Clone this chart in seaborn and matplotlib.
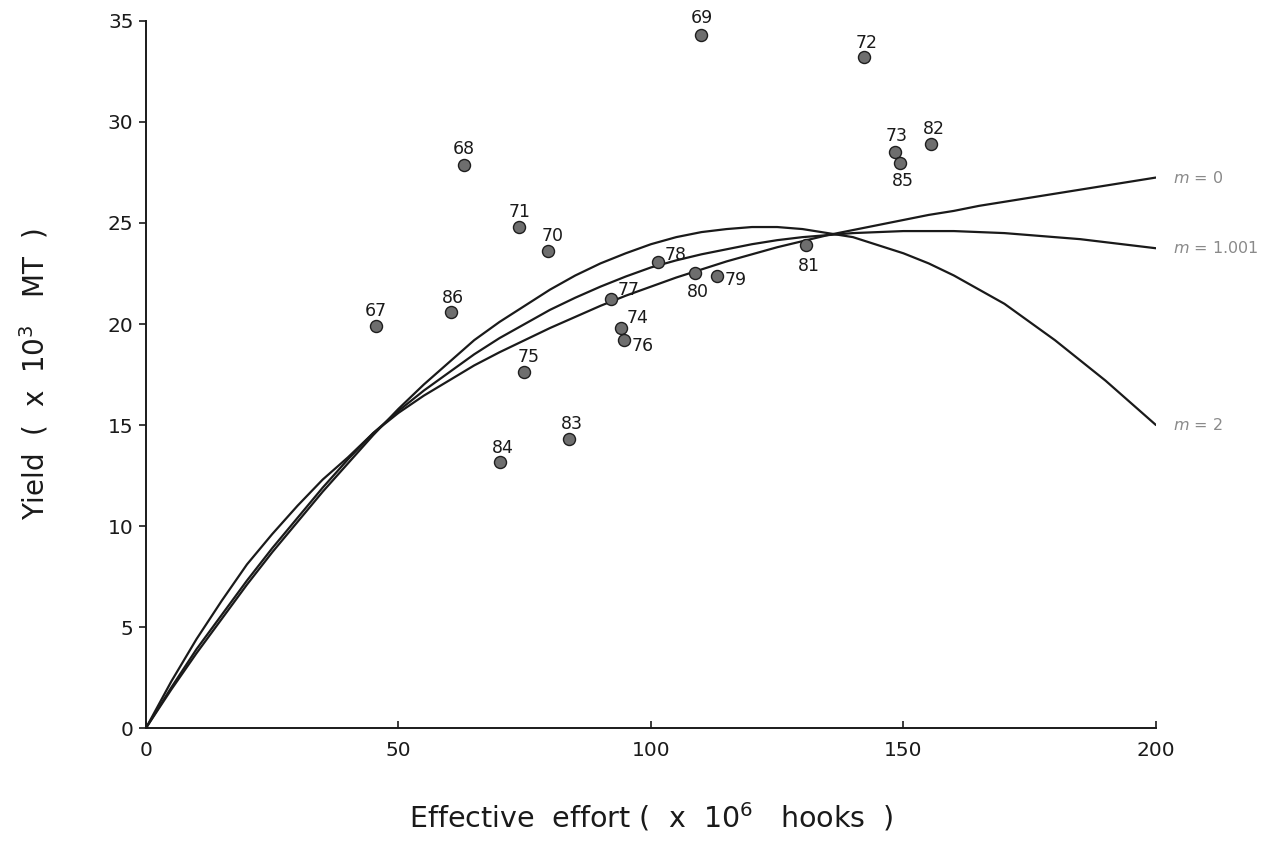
import pandas as pd
import seaborn as sns
import matplotlib.pyplot as plt

# Observed yield vs effective effort, by year
years = ['67', '68', '69', '70', '71', '72', '73', '74', '75', '76',
         '77', '78', '79', '80', '81', '82', '83', '84', '85', '86']
effort = [45.5, 63.0, 110.0, 79.7, 73.9, 142.1, 148.3, 94.0, 74.9, 94.6,
          92.0, 101.3, 113.0, 108.8, 130.8, 155.4, 83.8, 70.2, 149.4, 60.5]
yields = [19.9, 27.85, 34.3, 23.6, 24.8, 33.2, 28.5, 19.8, 17.6, 19.2,
          21.25, 23.05, 22.4, 22.5, 23.9, 28.9, 14.3, 13.15, 27.95, 20.6]

# Equilibrium yield curves
curve_effort = [0, 5, 10, 15, 20, 25, 30, 35, 40, 45, 50, 55, 60, 65, 70, 75, 80,
                85, 90, 95, 100, 105, 110, 115, 120, 125, 130, 135, 140, 145,
                150, 155, 160, 165, 170, 175, 180, 185, 190, 195, 200]
yield_m0 = [0, 2.3, 4.4, 6.3, 8.1, 9.6, 11.0, 12.3, 13.4, 14.6, 15.6, 16.45,
            17.2, 17.95, 18.6, 19.2, 19.8, 20.35, 20.9, 21.4, 21.85, 22.3, 22.7,
            23.1, 23.45, 23.8, 24.1, 24.4, 24.65, 24.9, 25.15, 25.4, 25.6,
            25.85, 26.05, 26.25, 26.45, 26.65, 26.85, 27.05, 27.25]
yield_m1 = [0, 2.0, 3.9, 5.6, 7.3, 8.9, 10.4, 11.9, 13.3, 14.6, 15.7, 16.7,
            17.6, 18.5, 19.3, 20.0, 20.7, 21.3, 21.85, 22.35, 22.8, 23.15, 23.45,
            23.7, 23.95, 24.15, 24.3, 24.4, 24.5, 24.55, 24.6, 24.6, 24.6,
            24.55, 24.5, 24.4, 24.3, 24.2, 24.05, 23.9, 23.75]
yield_m2 = [0, 1.9, 3.7, 5.4, 7.1, 8.7, 10.2, 11.7, 13.1, 14.5, 15.8, 17.0,
            18.1, 19.2, 20.1, 20.9, 21.7, 22.4, 23.0, 23.5, 23.95, 24.3, 24.55,
            24.7, 24.8, 24.8, 24.7, 24.5, 24.3, 23.9, 23.5, 23.0, 22.4,
            21.7, 21.0, 20.1, 19.2, 18.2, 17.2, 16.1, 15.0]
curve_names = ['m = 0', 'm = 1.001', 'm = 2']

# label offsets in points (dx, dy) for each year label
label_offsets = {
    '67': (0, 11), '68': (0, 12), '69': (0, 12), '70': (3, 11), '71': (0, 11),
    '72': (2, 10), '73': (1, 12), '74': (12, 7), '75': (3, 11), '76': (14, -4),
    '77': (13, 6), '78': (13, 5), '79': (14, -3), '80': (2, -13), '81': (2, -15),
    '82': (2, 11), '83': (2, 11), '84': (2, 10), '85': (2, -13), '86': (1, 10),
}

sns.set_style('white')
plt.rcParams['font.family'] = ['DejaVu Sans']
plt.rcParams['mathtext.fontset'] = 'dejavusans'

fig = plt.figure(figsize=(12.76, 8.43), dpi=100)
ax = fig.add_axes([0.1144, 0.1364, 0.7915, 0.8387])

n = len(curve_effort)
curves = pd.DataFrame({
    'effort': curve_effort * 3,
    'yield': yield_m0 + yield_m1 + yield_m2,
    'model': [curve_names[0]] * n + [curve_names[1]] * n + [curve_names[2]] * n,
})
sns.lineplot(data=curves, x='effort', y='yield', units='model', estimator=None,
             color='#1a1a1a', linewidth=1.6, ax=ax, legend=False)

points = pd.DataFrame({'year': years, 'effort': effort, 'yield': yields})
sns.scatterplot(data=points, x='effort', y='yield', s=75, color='#6e6e6e',
                edgecolor='#1e1e1e', linewidth=1.0, ax=ax, zorder=3, legend=False)

for yr, ex, yv in zip(years, effort, yields):
    dx, dy = label_offsets[yr]
    ax.annotate(yr, (ex, yv), xytext=(dx, dy), textcoords='offset points',
                ha='center', va='center', fontsize=12.5, color='#1a1a1a')

# curve labels at the right end
for name, ys in zip(curve_names, [yield_m0, yield_m1, yield_m2]):
    m_val = name.split('=')[1].strip()
    ax.annotate(f'$m$ = {m_val}', (curve_effort[-1], ys[-1]), xytext=(12, 0),
                textcoords='offset points', ha='left', va='center',
                fontsize=11.5, color='#8a8a8a')

ax.set_xlim(0, 200)
ax.set_ylim(0, 35)
ax.set_xticks([0, 50, 100, 150, 200])
ax.set_yticks([0, 5, 10, 15, 20, 25, 30, 35])
ax.tick_params(axis='x', direction='in', length=5, width=1.2, pad=9,
               labelsize=14.5, colors='#1a1a1a', bottom=True)
ax.tick_params(axis='y', direction='out', length=5, width=1.2, pad=4,
               labelsize=14.5, colors='#1a1a1a', left=True)

for side in ['top', 'right']:
    ax.spines[side].set_visible(False)
for side in ['left', 'bottom']:
    ax.spines[side].set_color('#1a1a1a')
    ax.spines[side].set_linewidth(1.4)

ax.set_xlabel('Effective  effort (  x  10$^6$   hooks  )', fontsize=20.5,
              color='#1a1a1a')
ax.set_ylabel('Yield  (  x  10$^3$   MT  )', fontsize=20, color='#1a1a1a')
ax.xaxis.set_label_coords(0.5, -0.102)
ax.yaxis.set_label_coords(-0.095, 0.5)

plt.savefig('out.png', dpi=100)
plt.close()
